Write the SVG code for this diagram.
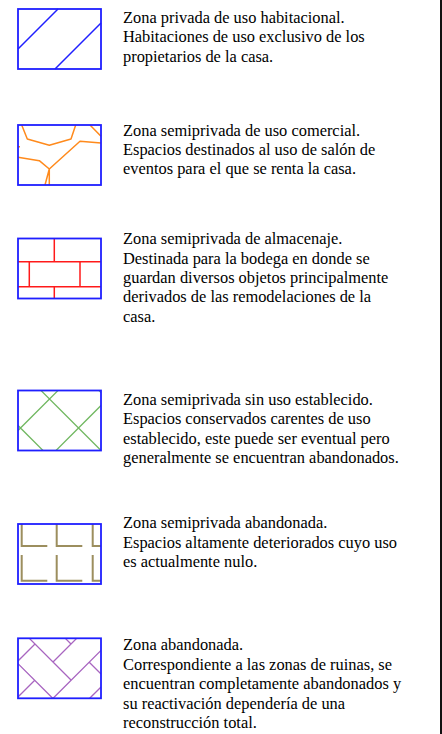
<svg xmlns="http://www.w3.org/2000/svg" width="442" height="734" viewBox="0 0 442 734">
<style>
text{font-family:"Liberation Serif","Times New Roman",serif;font-size:16.4px;fill:#000}
.frame{fill:none;stroke:#1f1fff;stroke-width:1.8}
.p1{fill:none;stroke:#2020ff;stroke-width:1.5}
.p2{fill:none;stroke:#ff8a1c;stroke-width:1.5;stroke-linejoin:round}
.p3{fill:none;stroke:#ff1a1a;stroke-width:1.5}
.p4{fill:none;stroke:#72b862;stroke-width:1.3}
.p5{fill:none;stroke:#9c8e5e;stroke-width:2}
.p6{fill:none;stroke:#a865c0;stroke-width:1.3}
</style>
<defs>
<clipPath id="c4"><rect x="18" y="390.5" width="83" height="60"/></clipPath>
<clipPath id="c5"><rect x="18" y="524" width="83" height="60"/></clipPath>
<clipPath id="c6"><rect x="18" y="638.3" width="83" height="60"/></clipPath>
</defs>
<rect x="0" y="0" width="442" height="734" fill="#fff"/>
<line x1="441" y1="0" x2="441" y2="734" stroke="#111" stroke-width="2"/>

<g id="legend-habitacional">
<path class="p1" d="M18,49 L58,9 M55,69 L101,23"/>
<rect class="frame" x="18" y="9" width="83" height="60"/>
<text x="123" y="22.5">Zona privada de uso habitacional.</text>
<text x="123" y="42">Habitaciones de uso exclusivo de los</text>
<text x="123" y="61.5">propietarios de la casa.</text>
</g>

<g id="legend-comercial">
<path class="p2" d="M21.7,125 L27.3,139 L49.3,145.3 L71,139 L75.7,125 M90,125 L101,136.3 M18,157.3 L39.3,160.7 L49.3,169 L80,141.3 L101,143 M49.3,169 L45,185 M49.3,169 L49.3,185 M18,146.7 L20,146.7"/>
<rect class="frame" x="18" y="125" width="83" height="60"/>
<text x="123" y="135.7">Zona semiprivada de uso comercial.</text>
<text x="123" y="155">Espacios destinados al uso de salón de</text>
<text x="123" y="174.3">eventos para el que se renta la casa.</text>
</g>

<g id="legend-almacenaje">
<path class="p3" d="M54.3,238.5 V261.7 M18,261.7 H101 M29.3,261.7 V286.7 M80,261.7 V286.7 M18,286.7 H101 M54.3,286.7 V298.5"/>
<rect class="frame" x="18" y="238.5" width="83" height="60"/>
<text x="123" y="244.3">Zona semiprivada de almacenaje.</text>
<text x="123" y="263.7">Destinada para la bodega en donde se</text>
<text x="123" y="283">guardan diversos objetos principalmente</text>
<text x="123" y="302.3">derivados de las remodelaciones de la</text>
<text x="123" y="321.7">casa.</text>
</g>

<g id="legend-sin-uso">
<path class="p4" clip-path="url(#c4)" d="M0,291.5 L120,411.5 M0,349.5 L120,469.5 M0,407.5 L120,527.5 M0,448.5 L120,328.5 M0,506.5 L120,386.5"/>
<rect class="frame" x="18" y="390.5" width="83" height="60"/>
<text x="123" y="405">Zona semiprivada sin uso establecido.</text>
<text x="123" y="424.3">Espacios conservados carentes de uso</text>
<text x="123" y="443.7">establecido, este puede ser eventual pero</text>
<text x="123" y="463">generalmente se encuentran abandonados.</text>
</g>

<g id="legend-abandonada-semi">
<path class="p5" clip-path="url(#c5)" d="M21.7,524 V546 H47.3 M56.7,524 V546 H82.3 M92.7,524 V546 H118 M21.7,555 V580.7 H47.3 M56.7,555 V580.7 H82.3 M92.7,555 V580.7 H118"/>
<rect class="frame" x="18" y="524" width="83" height="60"/>
<text x="123" y="528.3">Zona semiprivada abandonada.</text>
<text x="123" y="547.7">Espacios altamente deteriorados cuyo uso</text>
<text x="123" y="567">es actualmente nulo.</text>
</g>

<g id="legend-abandonada">
<path class="p6" clip-path="url(#c6)" d="M29.3,638.3 L71.25,680.25 M53.1,698.3 L101,650.4 M18,663.6 L52.7,698.3 M18,661 L35,644 M18,697 L34.5,680.5 M53,662 L76.7,638.3 M65.3,638.3 L71,644 M89.25,662.25 L101,674 M89.7,698.3 L101,687"/>
<rect class="frame" x="18" y="638.3" width="83" height="60"/>
<text x="123" y="650">Zona abandonada.</text>
<text x="123" y="669.5">Correspondiente a las zonas de ruinas, se</text>
<text x="123" y="689">encuentran completamente abandonados y</text>
<text x="123" y="708.5">su reactivación dependería de una</text>
<text x="123" y="728">reconstrucción total.</text>
</g>
</svg>
